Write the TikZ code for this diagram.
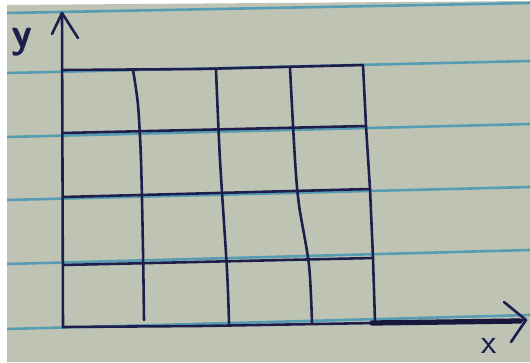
\documentclass[tikz,border=0pt]{standalone}
\usepackage{tikz}
\usetikzlibrary{calc}
\definecolor{paper}{RGB}{190,195,180}
\definecolor{rulecol}{RGB}{86,156,178}
\definecolor{inkcol}{RGB}{30,30,76}
\tikzset{
    ruleline/.style={line width=2.2pt, rulecol},
    inkline/.style={line width=2.2pt, inkcol, line cap=round, line join=round},
    smudge/.style={line width=4.5pt, inkcol!80!black, line cap=round},
    axislab/.style={font=\sffamily\fontsize{30}{30}\selectfont, text=inkcol, inner sep=0pt}
}
\begin{document}
\begin{tikzpicture}[x=0.03cm, y=-0.03cm]
    \fill[white] (0,0) rectangle (530,362);
    \useasboundingbox (0,0) rectangle (530,362);
    \fill[paper] (7,5) -- (530,1) -- (530,362) -- (7,362) -- cycle;
    \begin{scope}
        \clip (7,5) -- (530,1) -- (530,362) -- (7,362) -- cycle;
        \foreach \yl/\yr in {13/3, 73/61, 137/124, 200/187, 264/250, 329/315}
            \draw[ruleline] (7,\yl) -- (530,\yr);
    \end{scope}
    \coordinate (O) at (63,327);
    \coordinate (ytip) at (62,13);
    \coordinate (xtip) at (526,320);
    % grid
    \draw[inkline] (63,70) -- (200,69) -- (363,65)
        -- (366,126) -- (370,189) -- (373,258) -- (375,322);
    \draw[inkline] (63,133) -- (366,126);
    \draw[inkline] (63,197) -- (370,189);
    \draw[inkline] (63,265) -- (373,258);
    \draw[inkline] plot[smooth] coordinates {(133,70) (138,105) (141,160) (143,250) (144,320)};
    \draw[inkline] plot[smooth] coordinates {(216,70) (220,160) (227,270) (229,323)};
    \draw[inkline] plot[smooth] coordinates {(290,68) (295,160) (299,205) (309,265) (312,323)};
    % axes
    \draw[inkline] (O) -- (ytip);
    \draw[inkline] (52,34) -- (ytip) -- (78,38);
    \draw[inkline] (O) -- (200,326) -- (375,323) -- (xtip);
    \draw[smudge] (372,323) -- (520,321);
    \draw[inkline] (504,302) -- (xtip) -- (511,342);
    \node[axislab, font=\sffamily\bfseries\fontsize{36}{36}\selectfont] (ylab) at (22,42) {y};
    \node[axislab] (xlab) at (489,346) {x};
\end{tikzpicture}
\end{document}
